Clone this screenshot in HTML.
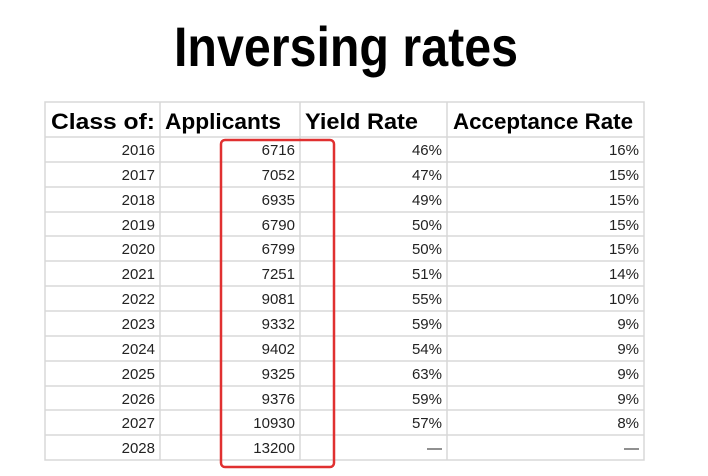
<!DOCTYPE html>
<html><head><style>
html,body{margin:0;padding:0;background:#fff;}
</style></head><body>
<svg width="708" height="471" xmlns="http://www.w3.org/2000/svg" font-family="Liberation Sans, sans-serif">
<rect width="708" height="471" fill="#fff"/>
<text x="346" y="66" text-anchor="middle" font-size="56" font-weight="bold" textLength="344" lengthAdjust="spacingAndGlyphs" fill="#000">Inversing rates</text>
<g stroke="#d8d8d8" stroke-width="1.5" fill="none">
<rect x="45" y="102" width="599" height="358"/>
<line x1="160" y1="102" x2="160" y2="460"/>
<line x1="300" y1="102" x2="300" y2="460"/>
<line x1="447" y1="102" x2="447" y2="460"/>
<line x1="45" y1="137" x2="644" y2="137"/>
<line x1="45" y1="162" x2="644" y2="162"/>
<line x1="45" y1="187" x2="644" y2="187"/>
<line x1="45" y1="212" x2="644" y2="212"/>
<line x1="45" y1="236" x2="644" y2="236"/>
<line x1="45" y1="261" x2="644" y2="261"/>
<line x1="45" y1="286" x2="644" y2="286"/>
<line x1="45" y1="311" x2="644" y2="311"/>
<line x1="45" y1="336" x2="644" y2="336"/>
<line x1="45" y1="361" x2="644" y2="361"/>
<line x1="45" y1="386" x2="644" y2="386"/>
<line x1="45" y1="410" x2="644" y2="410"/>
<line x1="45" y1="435" x2="644" y2="435"/>
</g>
<g font-size="22" font-weight="bold" fill="#000">
<text x="51" y="129" textLength="104" lengthAdjust="spacingAndGlyphs">Class of:</text>
<text x="165" y="129" textLength="116" lengthAdjust="spacingAndGlyphs">Applicants</text>
<text x="305" y="129" textLength="113" lengthAdjust="spacingAndGlyphs">Yield Rate</text>
<text x="453" y="129" textLength="180" lengthAdjust="spacingAndGlyphs">Acceptance Rate</text>
</g>
<g font-size="15" fill="#222" text-anchor="end">
<text x="155" y="155">2016</text><text x="295" y="155">6716</text><text x="442" y="155">46%</text><text x="639" y="155">16%</text>
<text x="155" y="180">2017</text><text x="295" y="180">7052</text><text x="442" y="180">47%</text><text x="639" y="180">15%</text>
<text x="155" y="205">2018</text><text x="295" y="205">6935</text><text x="442" y="205">49%</text><text x="639" y="205">15%</text>
<text x="155" y="230">2019</text><text x="295" y="230">6790</text><text x="442" y="230">50%</text><text x="639" y="230">15%</text>
<text x="155" y="254">2020</text><text x="295" y="254">6799</text><text x="442" y="254">50%</text><text x="639" y="254">15%</text>
<text x="155" y="279">2021</text><text x="295" y="279">7251</text><text x="442" y="279">51%</text><text x="639" y="279">14%</text>
<text x="155" y="304">2022</text><text x="295" y="304">9081</text><text x="442" y="304">55%</text><text x="639" y="304">10%</text>
<text x="155" y="329">2023</text><text x="295" y="329">9332</text><text x="442" y="329">59%</text><text x="639" y="329">9%</text>
<text x="155" y="354">2024</text><text x="295" y="354">9402</text><text x="442" y="354">54%</text><text x="639" y="354">9%</text>
<text x="155" y="379">2025</text><text x="295" y="379">9325</text><text x="442" y="379">63%</text><text x="639" y="379">9%</text>
<text x="155" y="404">2026</text><text x="295" y="404">9376</text><text x="442" y="404">59%</text><text x="639" y="404">9%</text>
<text x="155" y="428">2027</text><text x="295" y="428">10930</text><text x="442" y="428">57%</text><text x="639" y="428">8%</text>
<text x="155" y="453">2028</text><text x="295" y="453">13200</text><text x="442" y="453">—</text><text x="639" y="453">—</text>
</g>
<rect x="221" y="140" width="113" height="327" rx="4" fill="none" stroke="#e03030" stroke-width="2.5"/>
</svg>
</body></html>
